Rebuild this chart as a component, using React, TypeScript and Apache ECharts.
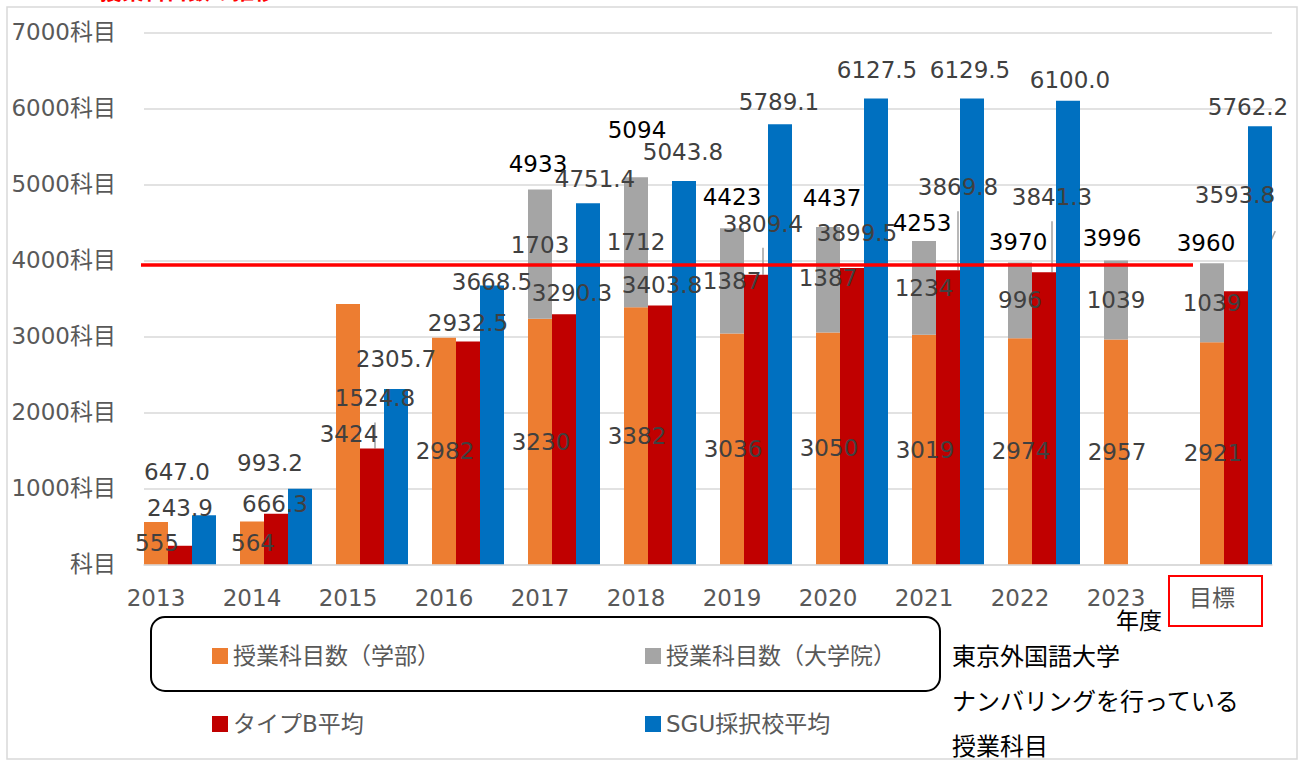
import React, { useEffect, useRef } from 'react';
import * as echarts from 'echarts';

const CATEGORIES = ['2013', '2014', '2015', '2016', '2017', '2018', '2019', '2020', '2021', '2022', '2023', '目標'];
const UNDERGRAD = [555, 564, 3424, 2982, 3230, 3382, 3036, 3050, 3019, 2974, 2957, 2921];
const GRADUATE: (number | null)[] = [null, null, null, null, 1703, 1712, 1387, 1387, 1234, 996, 1039, 1039];
const TYPE_B_AVG: (number | null)[] = [243.9, 666.3, 1524.8, 2932.5, 3290.3, 3403.8, 3809.4, 3899.5, 3869.8, 3841.3, null, 3593.8];
const SGU_AVG: (number | null)[] = [647.0, 993.2, 2305.7, 3668.5, 4751.4, 5043.8, 5789.1, 6127.5, 6129.5, 6100.0, null, 5762.2];
const Y_MAX = 7000;
const Y_STEP = 1000;
const TARGET_LINE = 3940;

const LEGEND_UG = '授業科目数（学部）';
const LEGEND_GR = '授業科目数（大学院）';
const LEGEND_B = 'タイプB平均';
const LEGEND_SGU = 'SGU採択校平均';
const NOTE_LINES = ['東京外国語大学', 'ナンバリングを行っている', '授業科目'];

// label placement tweaks (styling only)
const GR_LABEL_OFFSET = [[0, 0], [0, 0], [0, 0], [0, 0], [0, -9], [0, 0], [0, 0], [0, -2], [0, 0], [0, 0], [0, 0], [0, 0]];
const TOTAL_LABEL_OFFSET = [[0, 0], [0, 0], [0, 0], [0, 0], [-2, -13], [1, -35], [0, -19], [4, -17], [-2, -6], [-2, -9], [-4, -11], [-6, -8]];
const B_LABEL_OFFSET = [[0, -26], [-1, 2], [3, -38], [0, -6], [8, -9], [2, -9], [7, -39], [5, -23], [10, -71], [8, -63], [0, 0], [-1, -84]];
const B_LEADER = [false, false, true, false, false, false, true, false, true, true, false, true];
const SGU_LABEL_OFFSET = [[-27, -31], [-30, -14], [0, -18], [0, 9], [7, -12], [-1, -17], [-1, -10], [1, -17], [-2, -16], [2, -9], [0, 0], [-12, -7]];

const FONT = "'DejaVu Sans', 'Noto Sans CJK JP', sans-serif";
const C_UG = '#ED7D31';
const C_GR = '#A5A5A5';
const C_B = '#C00000';
const C_SGU = '#0070C0';
const LABEL_GRAY = '#404040';

export default function App() {
  const ref = useRef<HTMLDivElement>(null);

  useEffect(() => {
    if (!ref.current) return;
    const chart = echarts.init(ref.current, undefined, { renderer: 'svg' });

    const labelBase = {
      show: true,
      fontSize: 23,
      fontFamily: FONT,
      color: LABEL_GRAY,
      lineHeight: 24,
    };

    const ugData = UNDERGRAD.map((v) => ({ value: v, label: { offset: [1, 0] } }));
    const grData = GRADUATE.map((v, i) =>
      v == null ? '-' : { value: v, label: { offset: GR_LABEL_OFFSET[i] } }
    );
    const totalData = GRADUATE.map((v, i) =>
      v == null ? '-' : { value: 0, label: { offset: TOTAL_LABEL_OFFSET[i], formatter: String(UNDERGRAD[i] + v) } }
    );
    const bData = TYPE_B_AVG.map((v, i) =>
      v == null
        ? '-'
        : {
            value: v,
            label: { offset: B_LABEL_OFFSET[i] },
            labelLine: { show: B_LEADER[i], lineStyle: { color: '#A0A0A0', width: 1.5 } },
          }
    );
    const sguData = SGU_AVG.map((v, i) =>
      v == null ? '-' : { value: v, label: { offset: SGU_LABEL_OFFSET[i] } }
    );

    const barCommon = {
      type: 'bar',
      xAxisIndex: 0,
      yAxisIndex: 0,
      barWidth: 24,
      barGap: '0%',
      barCategoryGap: '25%',
    };

    const legendCommon = {
      orient: 'horizontal',
      padding: 0,
      itemWidth: 16,
      itemHeight: 16,
      itemGap: 0,
      icon: 'rect',
      selectedMode: false,
      textStyle: { fontSize: 23, color: '#595959', fontFamily: FONT, lineHeight: 24 },
    };

    const option: any = {
      animation: false,
      backgroundColor: '#ffffff',
      textStyle: { fontFamily: FONT },
      grid: [
        { left: 132, width: 1152, top: 32.3, height: 532 },
        { left: 144, width: 1128, top: 32.3, height: 532 },
      ],
      xAxis: [
        {
          type: 'category',
          gridIndex: 0,
          data: CATEGORIES,
          axisLine: { show: false },
          axisTick: { show: false },
          axisLabel: {
            interval: 0,
            fontSize: 23,
            lineHeight: 24,
            fontFamily: FONT,
            color: '#595959',
            margin: 22,
            padding: [0, 48, 0, 0],
          },
        },
        {
          type: 'category',
          gridIndex: 1,
          data: CATEGORIES,
          axisLine: { show: true, lineStyle: { color: '#D9D9D9', width: 1.5 } },
          axisTick: { show: false },
          axisLabel: { show: false },
        },
      ],
      yAxis: [
        {
          type: 'value',
          gridIndex: 0,
          min: 0,
          max: Y_MAX,
          interval: Y_STEP,
          show: false,
          splitLine: { show: false },
        },
        {
          type: 'value',
          gridIndex: 1,
          min: 0,
          max: Y_MAX,
          interval: Y_STEP,
          axisLine: { show: false },
          axisTick: { show: false },
          axisLabel: {
            fontSize: 23,
            fontFamily: FONT,
            color: '#595959',
            margin: 28,
            formatter: (v: number) => (v === 0 ? '科目' : `${v}科目`),
          },
          splitLine: { lineStyle: { color: '#D9D9D9', width: 1.5 } },
        },
      ],
      legend: [
        { ...legendCommon, data: [LEGEND_UG], left: 212, top: 644 },
        { ...legendCommon, data: [LEGEND_GR], left: 645, top: 644 },
        { ...legendCommon, data: [LEGEND_B], left: 212, top: 712 },
        { ...legendCommon, data: [LEGEND_SGU], left: 645, top: 712 },
      ],
      series: [
        {
          ...barCommon,
          name: LEGEND_UG,
          stack: 'tufs',
          itemStyle: { color: C_UG },
          label: { ...labelBase, position: 'inside' },
          data: ugData,
          markLine: {
            silent: true,
            symbol: 'none',
            z: 10,
            label: { show: false },
            lineStyle: { color: '#FF0000', width: 3.5, type: 'solid' },
            data: [[{ x: 141, yAxis: TARGET_LINE }, { x: 1193, yAxis: TARGET_LINE }]],
          },
        },
        {
          ...barCommon,
          name: LEGEND_GR,
          stack: 'tufs',
          itemStyle: { color: C_GR },
          label: { ...labelBase, position: 'inside' },
          data: grData,
        },
        {
          ...barCommon,
          name: 'total',
          stack: 'tufs',
          itemStyle: { color: 'rgba(0,0,0,0)' },
          label: { ...labelBase, position: 'top', distance: 0, color: '#000000' },
          data: totalData,
        },
        {
          ...barCommon,
          name: LEGEND_B,
          itemStyle: { color: C_B },
          label: {
            ...labelBase,
            position: 'top',
            distance: 0,
            formatter: (p: any) => Number(p.value).toFixed(1),
          },
          data: bData,
        },
        {
          ...barCommon,
          name: LEGEND_SGU,
          itemStyle: { color: C_SGU },
          label: {
            ...labelBase,
            position: 'top',
            distance: 0,
            formatter: (p: any) => Number(p.value).toFixed(1),
          },
          data: sguData,
        },
      ],
      graphic: [
        {
          type: 'rect',
          silent: true,
          shape: { x: 7, y: 7, width: 1290, height: 752 },
          style: { fill: 'none', stroke: '#D9D9D9', lineWidth: 1.5 },
        },
        {
          type: 'text',
          silent: true,
          left: 100,
          top: -20,
          style: { text: '授業科目数の推移', fontSize: 22, fontWeight: 'bold', fill: '#FF0000', fontFamily: FONT },
        },
        {
          type: 'rect',
          silent: true,
          shape: { x: 151, y: 617, width: 789, height: 74, r: 14 },
          style: { fill: 'none', stroke: '#000000', lineWidth: 2 },
        },
        {
          type: 'rect',
          silent: true,
          shape: { x: 1169, y: 576, width: 93, height: 50 },
          style: { fill: 'none', stroke: '#FF0000', lineWidth: 2 },
        },
        {
          type: 'text',
          silent: true,
          x: 1116,
          y: 621,
          style: { text: '年度', fontSize: 23, fill: '#000000', fontFamily: FONT, verticalAlign: 'middle' },
        },
        ...NOTE_LINES.map((t, i) => ({
          type: 'text',
          silent: true,
          x: 952,
          y: 657 + i * 45,
          style: { text: t, fontSize: 24, fill: '#000000', fontFamily: FONT, verticalAlign: 'middle' },
        })),
      ],
    };

    chart.setOption(option);
    return () => chart.dispose();
  }, []);

  return (
    <div
      ref={ref}
      style={{ position: 'absolute', left: 0, top: 0, width: 1300, height: 761, background: '#fff' }}
    />
  );
}
